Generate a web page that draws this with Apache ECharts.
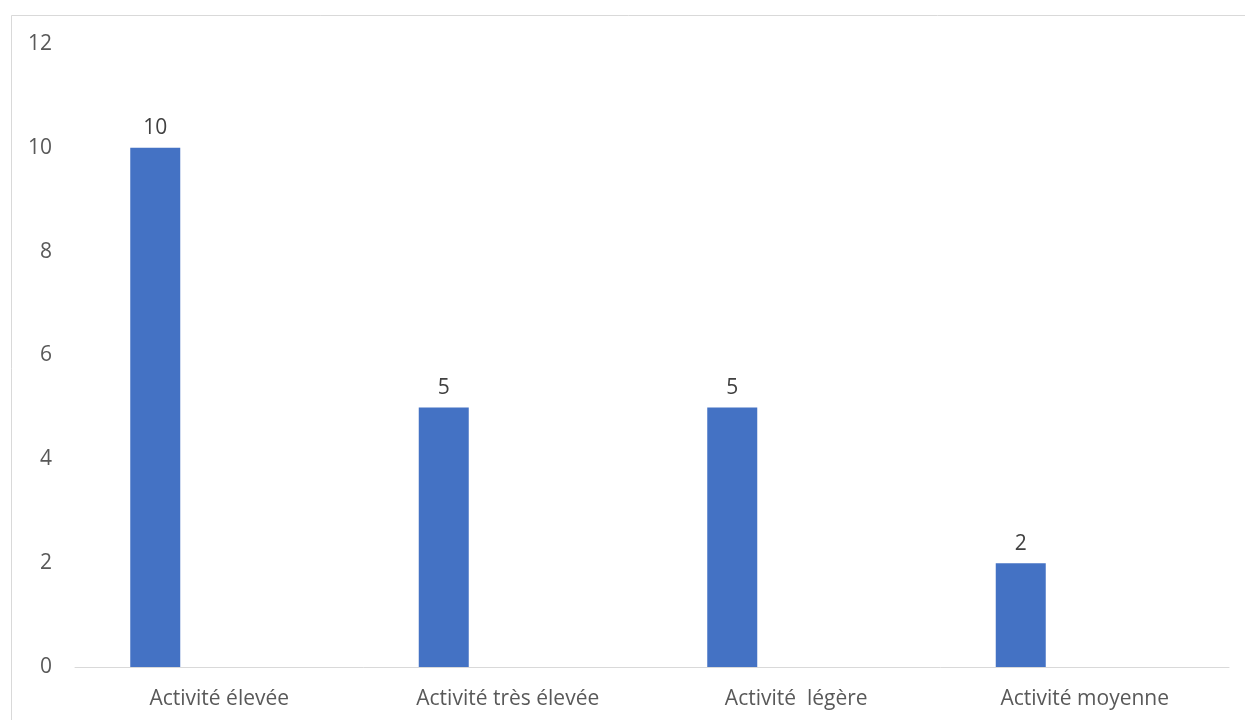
<!DOCTYPE html>
<html>
    <head>
        <meta charset="UTF-8">
        <title></title>
        <style>
            html, body { margin: 0; padding: 0; background: #ffffff; }
            #chart { position: absolute; left: 0; top: 0; width: 1245px; height: 720px; }
        </style>
        <script src="https://cdn.jsdelivr.net/npm/echarts@6/dist/echarts.min.js"></script>
    </head>
    <body>
        <div id="chart"></div>
    </body>
    <script>
        // données
        var categories = ['Activité élevée', 'Activité très élevée', 'Activité  légère', 'Activité moyenne'];
        var values = [10, 5, 5, 2];
        var emptySeries = [null, null, null, null];
        var yTicks = { min: 0, max: 12, interval: 2 };

        var font = 'Open Sans';

        var chart = echarts.init(document.getElementById('chart'));

        var option = {
            animation: false,
            backgroundColor: '#ffffff',
            textStyle: { fontFamily: font },
            graphic: [{
                type: 'rect',
                shape: { x: 11.5, y: 15.5, width: 1300, height: 800 },
                style: { fill: 'none', stroke: '#d9d9d9', lineWidth: 1 },
                silent: true
            }],
            grid: {
                left: 75,
                right: 16,
                top: 44,
                bottom: 53
            },
            xAxis: {
                type: 'category',
                data: categories,
                axisLine: { lineStyle: { color: '#d9d9d9', width: 1 } },
                axisTick: { show: false },
                axisLabel: { color: '#595959', fontSize: 21, margin: 22, fontFamily: font }
            },
            yAxis: {
                type: 'value',
                min: yTicks.min,
                max: yTicks.max,
                interval: yTicks.interval,
                axisLine: { show: false },
                axisTick: { show: false },
                splitLine: { show: false },
                axisLabel: { color: '#595959', fontSize: 21, margin: 23, fontFamily: font }
            },
            series: [
                {
                    type: 'bar',
                    data: values,
                    barWidth: 50,
                    barGap: '156%',
                    itemStyle: { color: '#4472c4' },
                    label: {
                        show: true,
                        position: 'top',
                        distance: 9,
                        color: '#404040',
                        fontSize: 21,
                        fontFamily: font
                    }
                },
                {
                    type: 'bar',
                    data: emptySeries,
                    barWidth: 50,
                    itemStyle: { color: '#ed7d31' }
                }
            ]
        };

        chart.setOption(option);
    </script>
</html>
